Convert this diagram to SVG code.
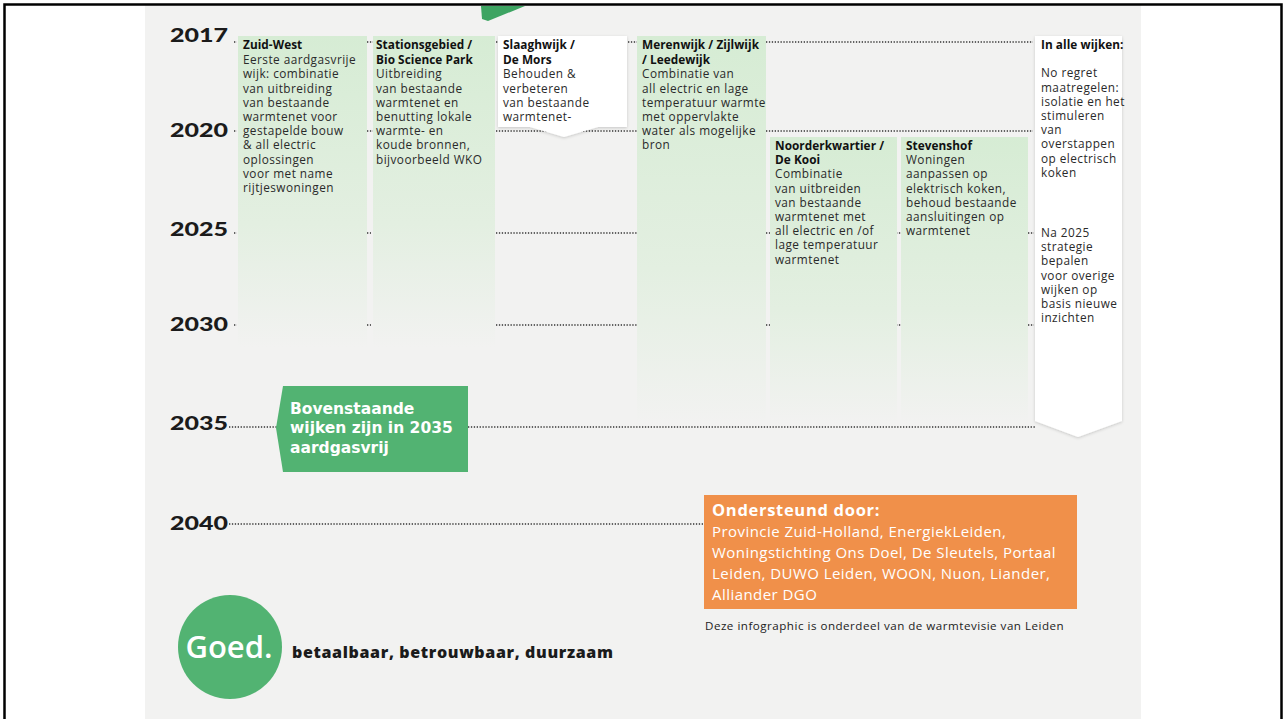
<svg xmlns="http://www.w3.org/2000/svg" width="1284" height="719" viewBox="0 0 1284 719">
<style>
text{font-family:"Open Sans","Liberation Sans",sans-serif;}
.yr{font-family:Lato,"Liberation Sans",sans-serif;font-size:18px;font-weight:900;fill:#1b1b1b;}
.b{font-size:11.8px;fill:#2a2a2a;letter-spacing:0.45px;}
.t{font-weight:700;fill:#111;letter-spacing:0.05px;}
.dot{stroke:#333;stroke-width:1.6;stroke-dasharray:1.3 1.6;fill:none;}
.col{fill:url(#g);}
.box{fill:#fff;filter:url(#sh);}
.wt{fill:#fff;font-weight:700;}
.bn{font-family:"DejaVu Sans","Open Sans",sans-serif;font-size:15.5px;}
</style>
<defs>
<linearGradient id="g" x1="0" y1="0" x2="0" y2="1">
<stop offset="0" stop-color="#d6ecd4"/>
<stop offset="0.6" stop-color="#e3efe1"/>
<stop offset="1" stop-color="#f2f2f1"/>
</linearGradient>
<filter id="sh" x="-10%" y="-10%" width="120%" height="120%">
<feDropShadow dx="0" dy="1" stdDeviation="1.5" flood-color="#000" flood-opacity="0.18"/>
</filter>
</defs>
<rect x="0" y="0" width="1284" height="719" fill="#fff"/>
<rect x="145" y="5" width="996" height="714" fill="#f2f2f1"/>
<path d="M4.5,719 V4.5 H1281.5 V719" fill="none" stroke="#000" stroke-width="2.5"/>
<polygon points="481,6 525,6 488,21 482,19" fill="#3da462"/>

<g id="years">
<text class="yr" x="170" y="42" textLength="58" lengthAdjust="spacingAndGlyphs">2017</text>
<text class="yr" x="170" y="137" textLength="58" lengthAdjust="spacingAndGlyphs">2020</text>
<text class="yr" x="170" y="236" textLength="58" lengthAdjust="spacingAndGlyphs">2025</text>
<text class="yr" x="170" y="331" textLength="58" lengthAdjust="spacingAndGlyphs">2030</text>
<text class="yr" x="170" y="430" textLength="58" lengthAdjust="spacingAndGlyphs">2035</text>
<text class="yr" x="170" y="530" textLength="58" lengthAdjust="spacingAndGlyphs">2040</text>
</g>

<g id="connectors">
<path class="dot" d="M234,42 H237 M367,42 H373 M496,42 H499 M628,42 H637 M766,42 H1033"/>
<path class="dot" d="M234,131 H237 M367,131 H373 M496,131 H637 M766,131 H1033"/>
<path class="dot" d="M234,233 H237 M367,233 H371 M496,233 H637 M766,233 H771 M896,233 H901 M1028,233 H1034"/>
<path class="dot" d="M234,325 H237 M367,325 H371 M496,325 H637 M766,325 H771 M896,325 H901 M1028,325 H1034"/>
<path class="dot" d="M229,427 H277 M468,427 H1036"/>
<path class="dot" d="M229,524 H705"/>
</g>

<g id="zuid-west">
<rect class="col" x="238" y="36" width="129" height="312"/>
<text class="b" x="243" y="49"><tspan class="t">Zuid-West</tspan><tspan x="243" dy="15.2">Eerste aardgasvrije</tspan><tspan x="243" dy="14.2">wijk: combinatie</tspan><tspan x="243" dy="14.2">van uitbreiding</tspan><tspan x="243" dy="14.2">van bestaande</tspan><tspan x="243" dy="14.2">warmtenet voor</tspan><tspan x="243" dy="14.2">gestapelde bouw</tspan><tspan x="243" dy="14.2">&amp; all electric</tspan><tspan x="243" dy="14.2">oplossingen</tspan><tspan x="243" dy="14.2">voor met name</tspan><tspan x="243" dy="14.2">rijtjeswoningen</tspan></text>
</g>

<g id="stationsgebied">
<rect class="col" x="373" y="36" width="122" height="312"/>
<text class="b" x="376" y="49"><tspan class="t">Stationsgebied /</tspan><tspan class="t" x="376" dy="15.2">Bio Science Park</tspan><tspan x="376" dy="14.2">Uitbreiding</tspan><tspan x="376" dy="14.2">van bestaande</tspan><tspan x="376" dy="14.2">warmtenet en</tspan><tspan x="376" dy="14.2">benutting lokale</tspan><tspan x="376" dy="14.2">warmte- en</tspan><tspan x="376" dy="14.2">koude bronnen,</tspan><tspan x="376" dy="14.2">bijvoorbeeld WKO</tspan></text>
</g>

<g id="slaaghwijk">
<polygon class="box" points="498,36 627,36 627,127 598,127 564,137 530,127 498,127"/>
<text class="b" x="503" y="49"><tspan class="t">Slaaghwijk /</tspan><tspan class="t" x="503" dy="15.2">De Mors</tspan><tspan x="503" dy="14.2">Behouden &amp;</tspan><tspan x="503" dy="14.2">verbeteren</tspan><tspan x="503" dy="14.2">van bestaande</tspan><tspan x="503" dy="14.2">warmtenet-</tspan></text>
</g>

<g id="merenwijk">
<rect class="col" x="637" y="36" width="129" height="388"/>
<text class="b" x="642" y="49"><tspan class="t">Merenwijk / Zijlwijk</tspan><tspan class="t" x="642" dy="15.2">/ Leedewijk</tspan><tspan x="642" dy="14.2">Combinatie van</tspan><tspan x="642" dy="14.2">all electric en lage</tspan><tspan x="642" dy="14.2">temperatuur warmte</tspan><tspan x="642" dy="14.2">met oppervlakte</tspan><tspan x="642" dy="14.2">water als mogelijke</tspan><tspan x="642" dy="14.2">bron</tspan></text>
</g>

<g id="noorderkwartier">
<rect class="col" x="770" y="137" width="127" height="287"/>
<text class="b" x="775" y="150"><tspan class="t">Noorderkwartier /</tspan><tspan class="t" x="775" dy="14.2">De Kooi</tspan><tspan x="775" dy="14.2">Combinatie</tspan><tspan x="775" dy="14.2">van uitbreiden</tspan><tspan x="775" dy="14.2">van bestaande</tspan><tspan x="775" dy="14.2">warmtenet met</tspan><tspan x="775" dy="14.2">all electric en /of</tspan><tspan x="775" dy="14.2">lage temperatuur</tspan><tspan x="775" dy="14.2">warmtenet</tspan></text>
</g>

<g id="stevenshof">
<rect class="col" x="901" y="137" width="127" height="287"/>
<text class="b" x="906" y="150"><tspan class="t">Stevenshof</tspan><tspan x="906" dy="14.2">Woningen</tspan><tspan x="906" dy="14.2">aanpassen op</tspan><tspan x="906" dy="14.2">elektrisch koken,</tspan><tspan x="906" dy="14.2">behoud bestaande</tspan><tspan x="906" dy="14.2">aansluitingen op</tspan><tspan x="906" dy="14.2">warmtenet</tspan></text>
</g>

<g id="alle-wijken">
<polygon class="box" points="1035,36 1122,36 1122,421 1078,437 1035,421"/>
<text class="b" x="1041" y="49"><tspan class="t">In alle wijken:</tspan><tspan x="1041" dy="28.4">No regret</tspan><tspan x="1041" dy="14.2">maatregelen:</tspan><tspan x="1041" dy="14.2">isolatie en het</tspan><tspan x="1041" dy="14.2">stimuleren</tspan><tspan x="1041" dy="14.2">van</tspan><tspan x="1041" dy="14.2">overstappen</tspan><tspan x="1041" dy="14.2">op electrisch</tspan><tspan x="1041" dy="14.2">koken</tspan></text>
<text class="b" x="1041" y="237"><tspan>Na 2025</tspan><tspan x="1041" dy="14.2">strategie</tspan><tspan x="1041" dy="14.2">bepalen</tspan><tspan x="1041" dy="14.2">voor overige</tspan><tspan x="1041" dy="14.2">wijken op</tspan><tspan x="1041" dy="14.2">basis nieuwe</tspan><tspan x="1041" dy="14.2">inzichten</tspan></text>
</g>

<g id="aardgasvrij-2035">
<polygon points="283,386 468,386 468,472 283,472 276,428" fill="#52b372"/>
<text class="wt bn" x="290" y="414"><tspan>Bovenstaande</tspan><tspan x="290" dy="19.4">wijken zijn in 2035</tspan><tspan x="290" dy="19.4">aardgasvrij</tspan></text>
</g>

<g id="ondersteund">
<rect x="704" y="495" width="373" height="114" fill="#f0904a"/>
<text class="wt" font-size="16.5" letter-spacing="0.7" x="712" y="516">Ondersteund door:</text>
<text fill="#fff" font-size="15" letter-spacing="0.45" x="712" y="537"><tspan>Provincie Zuid-Holland, EnergiekLeiden,</tspan><tspan x="712" dy="21">Woningstichting Ons Doel, De Sleutels, Portaal</tspan><tspan x="712" dy="21">Leiden, DUWO Leiden, WOON, Nuon, Liander,</tspan><tspan x="712" dy="21">Alliander DGO</tspan></text>
<text fill="#222" font-size="11.6" letter-spacing="0.5" x="705" y="630">Deze infographic is onderdeel van de warmtevisie van Leiden</text>
</g>

<g id="goed">
<circle cx="230" cy="647" r="52" fill="#52b372"/>
<text fill="#fff" font-size="31" font-weight="600" x="229" y="658" text-anchor="middle">Goed.</text>
<text fill="#1b1b1b" font-size="16" font-weight="800" x="292" y="658" letter-spacing="0.65">betaalbaar, betrouwbaar, duurzaam</text>
</g>
</svg>
